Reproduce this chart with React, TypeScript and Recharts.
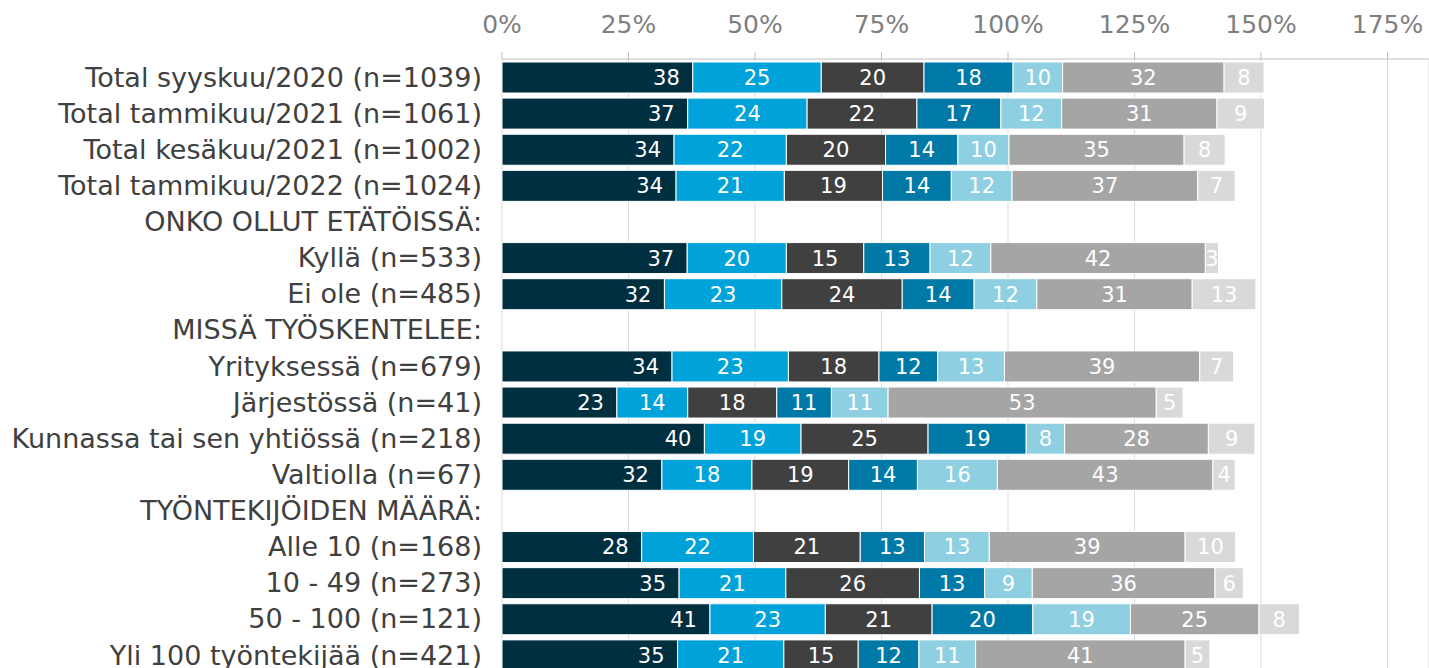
import React from 'react';
import { BarChart, Bar, XAxis, YAxis, CartesianGrid, LabelList } from 'recharts';

const CATEGORIES = [
  'Total syyskuu/2020 (n=1039)',
  'Total tammikuu/2021 (n=1061)',
  'Total kesäkuu/2021 (n=1002)',
  'Total tammikuu/2022 (n=1024)',
  'ONKO OLLUT ETÄTÖISSÄ:',
  'Kyllä (n=533)',
  'Ei ole (n=485)',
  'MISSÄ TYÖSKENTELEE:',
  'Yrityksessä (n=679)',
  'Järjestössä (n=41)',
  'Kunnassa tai sen yhtiössä (n=218)',
  'Valtiolla (n=67)',
  'TYÖNTEKIJÖIDEN MÄÄRÄ:',
  'Alle 10 (n=168)',
  '10 - 49 (n=273)',
  '50 - 100 (n=121)',
  'Yli 100 työntekijää (n=421)',
];

// null = header row without a bar; decimals, labels are rounded
const S1 = [37.7, 36.7, 34.0, 34.4, null, 36.6, 32.1, null, 33.6, 22.7, 40.0, 31.6, null, 27.6, 35.0, 41.1, 34.7];
const S2 = [25.4, 23.6, 22.2, 21.4, null, 19.6, 23.2, null, 23.0, 14.0, 19.1, 17.8, null, 22.1, 21.1, 22.8, 21.0];
const S3 = [20.3, 21.7, 19.6, 19.4, null, 15.3, 23.8, null, 17.9, 17.6, 25.1, 19.1, null, 21.1, 26.4, 21.1, 14.7];
const S4 = [17.6, 16.6, 14.3, 13.6, null, 13.1, 14.2, null, 11.6, 10.8, 19.4, 13.6, null, 12.7, 12.9, 19.9, 12.0];
const S5 = [9.8, 12.0, 10.1, 12.0, null, 12.0, 12.4, null, 13.2, 11.2, 7.6, 15.8, null, 12.8, 9.4, 19.3, 11.2];
const S6 = [31.9, 30.7, 34.6, 36.7, null, 42.4, 30.7, null, 38.6, 53.0, 28.4, 42.6, null, 38.7, 36.1, 25.4, 41.4];
const S7 = [7.9, 9.4, 8.1, 7.4, null, 2.6, 12.6, null, 6.7, 5.3, 9.2, 4.4, null, 10.0, 5.6, 8.0, 4.9];

const X_TICKS = [0, 25, 50, 75, 100, 125, 150, 175];

const SERIES = [
  { key: 's1', values: S1, color: '#002f3f' },
  { key: 's2', values: S2, color: '#00a3d9' },
  { key: 's3', values: S3, color: '#404040' },
  { key: 's4', values: S4, color: '#0079a6' },
  { key: 's5', values: S5, color: '#8ecfe1' },
  { key: 's6', values: S6, color: '#a5a5a5' },
  { key: 's7', values: S7, color: '#d9d9d9' },
];

const data = CATEGORIES.map((name, i) => {
  const row: Record<string, any> = { name };
  SERIES.forEach(s => {
    row[s.key] = s.values[i];
  });
  return row;
});

const FONT = '"DejaVu Sans", Verdana, sans-serif';

const App: React.FC = () => {
  return (
    <div style={{ position: 'absolute', left: 0, top: 0, width: 1429, height: 668, overflow: 'hidden', background: '#fff' }}>
      <BarChart
        width={1429}
        height={680}
        data={data}
        layout="vertical"
        margin={{ top: 0, right: 0, bottom: 7, left: 0 }}
        style={{ fontFamily: FONT }}
      >
        <CartesianGrid horizontal={false} stroke="#d9d9d9" />
        <XAxis
          type="number"
          orientation="top"
          domain={[0, 183.2]}
          ticks={X_TICKS}
          tickFormatter={(v: number) => `${v}%`}
          height={59}
          tickSize={7}
          tickMargin={19}
          stroke="#bfbfbf"
          tick={{ fill: '#7f7f7f', fontSize: 25 }}
          interval={0}
        />
        <YAxis
          type="category"
          dataKey="name"
          width={502}
          axisLine={false}
          tickLine={false}
          tickSize={6}
          tickMargin={14}
          interval={0}
          tick={{ fill: '#404040', fontSize: 27 }}
        />
        {SERIES.map((s, idx) => (
          <Bar
            key={s.key}
            dataKey={s.key}
            stackId="a"
            fill={s.color}
            stroke="#ffffff"
            strokeWidth={1}
            barSize={31}
            isAnimationActive={false}
          >
            <LabelList
              dataKey={s.key}
              position={idx === 0 ? 'insideRight' : 'center'}
              offset={13}
              fill="#ffffff"
              fontSize={21}
              formatter={(v: any) => (v == null ? '' : Math.round(Number(v)))}
            />
          </Bar>
        ))}
      </BarChart>
    </div>
  );
};

export default App;
